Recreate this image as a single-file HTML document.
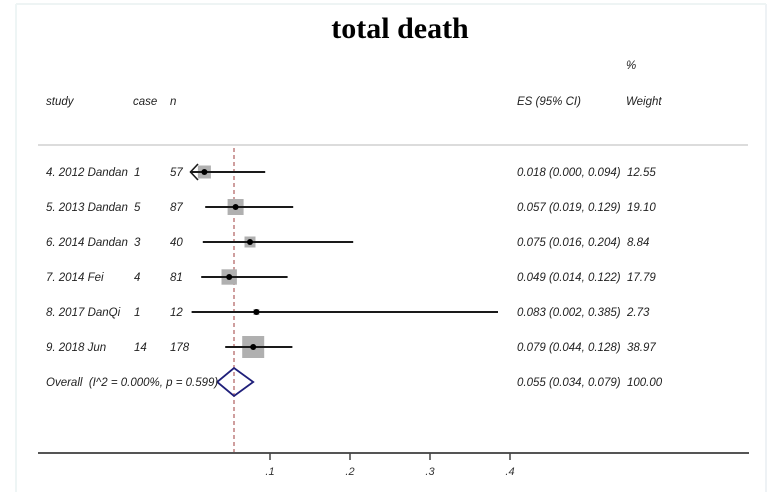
<!DOCTYPE html>
<html>
<head>
<meta charset="utf-8">
<style>
  html,body{margin:0;padding:0;background:#fff;}
  svg{display:block;}
  .t{font-family:"Liberation Sans",Arial,sans-serif;font-style:italic;font-size:11.5px;fill:#222;}
  .ax{font-family:"Liberation Sans",Arial,sans-serif;font-style:italic;font-size:11px;fill:#333;}
</style>
</head>
<body>
<svg width="784" height="492" viewBox="0 0 784 492" xmlns="http://www.w3.org/2000/svg">
  <rect x="0" y="0" width="784" height="492" fill="#fff"/>
  <!-- faint frame -->
  <line x1="16" y1="4" x2="16" y2="492" stroke="#eef5f5" stroke-width="2"/>
  <line x1="766" y1="4" x2="766" y2="492" stroke="#eef2f5" stroke-width="2"/>
  <line x1="16" y1="4" x2="766" y2="4" stroke="#eef4f4" stroke-width="2"/>

  <!-- title -->
  <text x="400" y="38" text-anchor="middle" font-family="'Liberation Serif','Times New Roman',serif" font-weight="bold" font-size="30" fill="#000">total death</text>

  <!-- headers -->
  <text class="t" x="626" y="69">%</text>
  <text class="t" x="46" y="105">study</text>
  <text class="t" x="133" y="105">case</text>
  <text class="t" x="170" y="105">n</text>
  <text class="t" x="517" y="105">ES (95% CI)</text>
  <text class="t" x="626" y="105">Weight</text>

  <!-- separator -->
  <line x1="38" y1="145" x2="748" y2="145" stroke="#dcdcdc" stroke-width="2"/>

  <!-- null line (dashed) -->
  <line x1="234" y1="148" x2="234" y2="452" stroke="#b56a6a" stroke-width="1.3" stroke-dasharray="4,3"/>

  <!-- row1 -->
  <rect x="197.9" y="165.5" width="13" height="13" fill="#b0b0b0"/>
  <line x1="190" y1="172" x2="265.2" y2="172" stroke="#1a1a1a" stroke-width="2"/>
  <polyline points="198,164 190.5,172 198,180" fill="none" stroke="#1a1a1a" stroke-width="1.6"/>
  <circle cx="204.4" cy="172" r="3" fill="#000"/>

  <!-- row2 -->
  <rect x="227.6" y="199" width="16" height="16" fill="#b0b0b0"/>
  <line x1="205.2" y1="207" x2="293.2" y2="207" stroke="#1a1a1a" stroke-width="2"/>
  <circle cx="235.6" cy="207" r="3" fill="#000"/>

  <!-- row3 -->
  <rect x="244.5" y="236.5" width="11" height="11" fill="#b0b0b0"/>
  <line x1="202.8" y1="242" x2="353.2" y2="242" stroke="#1a1a1a" stroke-width="2"/>
  <circle cx="250" cy="242" r="3" fill="#000"/>

  <!-- row4 -->
  <rect x="221.5" y="269.3" width="15.4" height="15.4" fill="#b0b0b0"/>
  <line x1="201.2" y1="277" x2="287.6" y2="277" stroke="#1a1a1a" stroke-width="2"/>
  <circle cx="229.2" cy="277" r="3" fill="#000"/>

  <!-- row5 -->
  <rect x="253.4" y="309" width="6" height="6" fill="#b0b0b0"/>
  <line x1="191.6" y1="312" x2="498" y2="312" stroke="#1a1a1a" stroke-width="2"/>
  <circle cx="256.4" cy="312" r="3" fill="#000"/>

  <!-- row6 -->
  <rect x="242.2" y="336" width="22" height="22" fill="#b0b0b0"/>
  <line x1="225.2" y1="347" x2="292.4" y2="347" stroke="#1a1a1a" stroke-width="2"/>
  <circle cx="253.2" cy="347" r="3" fill="#000"/>

  <!-- overall diamond -->
  <polygon points="217.2,382 234,368 253.2,382 234,396" fill="none" stroke="#1f1f7a" stroke-width="1.8"/>

  <!-- row labels -->
  <text class="t" x="46" y="176">4. 2012 Dandan</text><text class="t" x="134" y="176">1</text><text class="t" x="170" y="176">57</text>
  <text class="t" x="46" y="211">5. 2013 Dandan</text><text class="t" x="134" y="211">5</text><text class="t" x="170" y="211">87</text>
  <text class="t" x="46" y="246">6. 2014 Dandan</text><text class="t" x="134" y="246">3</text><text class="t" x="170" y="246">40</text>
  <text class="t" x="46" y="281">7. 2014 Fei</text><text class="t" x="134" y="281">4</text><text class="t" x="170" y="281">81</text>
  <text class="t" x="46" y="316">8. 2017 DanQi</text><text class="t" x="134" y="316">1</text><text class="t" x="170" y="316">12</text>
  <text class="t" x="46" y="351">9. 2018 Jun</text><text class="t" x="134" y="351">14</text><text class="t" x="170" y="351">178</text>
  <text class="t" x="46" y="386">Overall&#160; (I^2 = 0.000%, p = 0.599)</text>

  <!-- ES and weights -->
  <text class="t" x="517" y="176">0.018 (0.000, 0.094)</text><text class="t" x="627" y="176">12.55</text>
  <text class="t" x="517" y="211">0.057 (0.019, 0.129)</text><text class="t" x="627" y="211">19.10</text>
  <text class="t" x="517" y="246">0.075 (0.016, 0.204)</text><text class="t" x="627" y="246">8.84</text>
  <text class="t" x="517" y="281">0.049 (0.014, 0.122)</text><text class="t" x="627" y="281">17.79</text>
  <text class="t" x="517" y="316">0.083 (0.002, 0.385)</text><text class="t" x="627" y="316">2.73</text>
  <text class="t" x="517" y="351">0.079 (0.044, 0.128)</text><text class="t" x="627" y="351">38.97</text>
  <text class="t" x="517" y="386">0.055 (0.034, 0.079)</text><text class="t" x="627" y="386">100.00</text>

  <!-- x axis -->
  <line x1="38" y1="453" x2="749" y2="453" stroke="#555" stroke-width="2"/>
  <g stroke="#444" stroke-width="1.5">
    <line x1="270" y1="453" x2="270" y2="460"/>
    <line x1="350" y1="453" x2="350" y2="460"/>
    <line x1="430" y1="453" x2="430" y2="460"/>
    <line x1="510" y1="453" x2="510" y2="460"/>
  </g>
  <text class="ax" x="270" y="475" text-anchor="middle">.1</text>
  <text class="ax" x="350" y="475" text-anchor="middle">.2</text>
  <text class="ax" x="430" y="475" text-anchor="middle">.3</text>
  <text class="ax" x="510" y="475" text-anchor="middle">.4</text>
</svg>
</body>
</html>
